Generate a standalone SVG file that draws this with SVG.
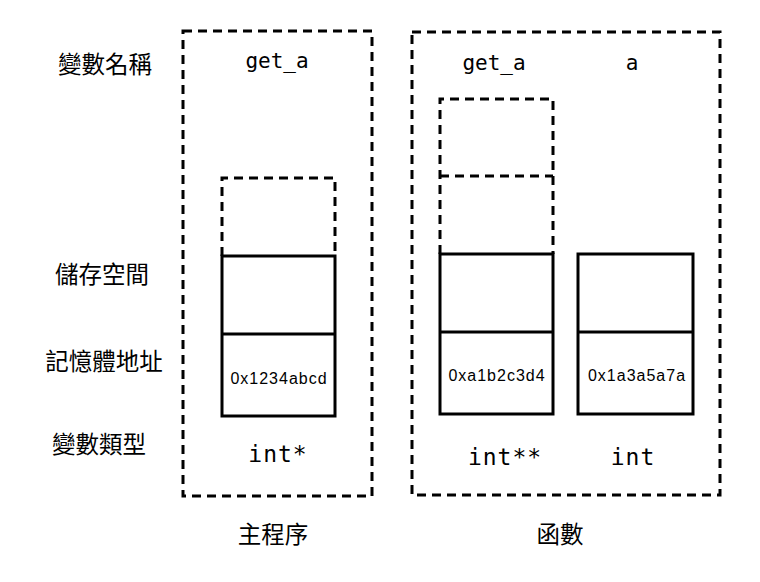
<svg xmlns="http://www.w3.org/2000/svg" width="760" height="582" viewBox="0 0 760 582">
<style>
.dash{fill:none;stroke:#000;stroke-width:3;stroke-dasharray:9 6}
.solid{fill:none;stroke:#000;stroke-width:3}
.cjk{font-family:"Noto Sans CJK TC","Noto Sans CJK SC",sans-serif;font-size:23.5px;fill:#000;text-anchor:middle;dominant-baseline:central}
.mono{font-family:"DejaVu Sans Mono","Liberation Mono",monospace;font-size:21px;fill:#000;text-anchor:middle}
.type{font-family:"DejaVu Sans Mono","Liberation Mono",monospace;font-size:23px;fill:#000;text-anchor:middle;letter-spacing:1px}
.addr{font-family:"Liberation Sans",Arial,sans-serif;font-size:16px;fill:#000;text-anchor:middle;letter-spacing:1px}
</style>
<rect width="760" height="582" fill="#fff"/>
<g id="row-labels">
<text class="cjk" x="105" y="63">變數名稱</text>
<text class="cjk" x="102" y="273">儲存空間</text>
<text class="cjk" x="104" y="360">記憶體地址</text>
<text class="cjk" x="99" y="443">變數類型</text>
</g>
<g id="main">
<rect class="dash" x="183" y="31" width="189" height="465"/>
<text class="mono" x="277" y="68">get_a</text>
<text class="cjk" x="273" y="533">主程序</text>
</g>
<g id="main-get_a">
<path class="dash" d="M222 256 V178 H335 V256"/>
<rect class="solid" x="222" y="256" width="113" height="160"/>
<line class="solid" x1="222" y1="334" x2="335" y2="334"/>
<text class="addr" x="279" y="384">0x1234abcd</text>
<text class="type" x="278" y="462">int*</text>
</g>
<g id="func">
<rect class="dash" x="412" y="32" width="308" height="463"/>
<text class="mono" x="494" y="70">get_a</text>
<text class="mono" x="632" y="70">a</text>
<text class="cjk" x="560" y="533">函數</text>
</g>
<g id="func-get_a">
<path class="dash" d="M440 254 V99 H553 V254"/>
<line class="dash" x1="440" y1="176" x2="553" y2="176"/>
<rect class="solid" x="440" y="254" width="113" height="160"/>
<line class="solid" x1="440" y1="332" x2="553" y2="332"/>
<text class="addr" x="497" y="381">0xa1b2c3d4</text>
<text class="type" x="505" y="465">int**</text>
</g>
<g id="func-a">
<rect class="solid" x="578" y="254" width="115" height="160"/>
<line class="solid" x1="578" y1="332" x2="693" y2="332"/>
<text class="addr" x="637" y="381">0x1a3a5a7a</text>
<text class="type" x="633" y="465">int</text>
</g>
<g id="connectors"></g>
</svg>
